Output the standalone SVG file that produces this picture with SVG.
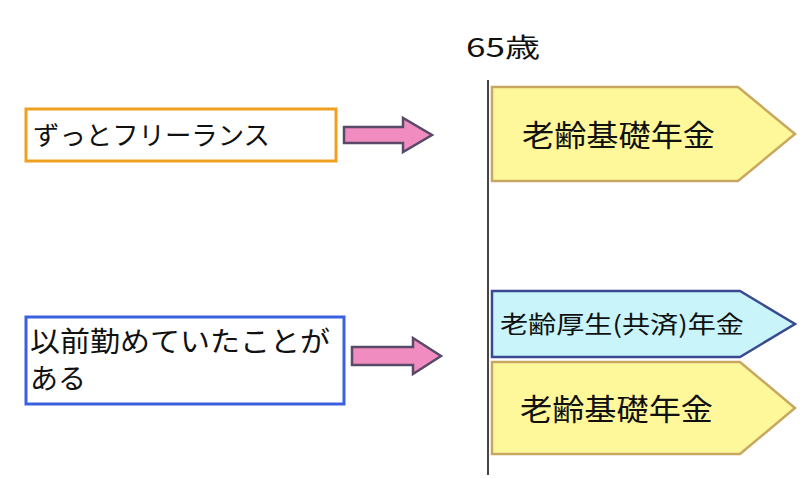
<svg xmlns="http://www.w3.org/2000/svg" width="800" height="478" viewBox="0 0 800 478">
<style>
text{font-family:"Noto Sans CJK JP","Liberation Sans",sans-serif;fill:#111}
.arr{fill:#f08cc0;stroke:#5a4a6a;stroke-width:2.5}
.yl{fill:#fff89a;stroke:#c8a860;stroke-width:2.5}
</style>
<rect width="800" height="478" fill="#fff"/>
<g id="connectors">
<polygon class="arr" points="344,127 403,127 403,118 432,135 403,152 403,143 344,143"/>
<polygon class="arr" points="352,347 413,347 413,338 441,356 413,374 413,365 352,365"/>
<line x1="488" y1="80" x2="488" y2="475" stroke="#444" stroke-width="2"/>
</g>
<g id="age"><text x="466" y="57" font-size="26" textLength="74" lengthAdjust="spacingAndGlyphs">65歳</text></g>
<g id="freelance"><rect x="26" y="109" width="310" height="52" fill="#fff" stroke="#f0a020" stroke-width="3"/>
<text x="33" y="145" font-size="26" textLength="237" lengthAdjust="spacingAndGlyphs">ずっとフリーランス</text></g>
<g id="employed"><rect x="26" y="317" width="318" height="87" fill="#fff" stroke="#3a60e0" stroke-width="3"/>
<text x="30" y="352" font-size="28" textLength="300" lengthAdjust="spacingAndGlyphs">以前勤めていたことが</text><text x="30" y="389" font-size="28">ある</text></g>
<g id="kiso1"><polygon class="yl" points="492,87 738,87 795,134 738,181 492,181"/>
<text x="522" y="146" font-size="30" textLength="193" lengthAdjust="spacingAndGlyphs">老齢基礎年金</text></g>
<g id="kosei"><polygon points="492,291 740,291 795,324 740,357 492,357" fill="#c8f4fa" stroke="#3a4a90" stroke-width="2.5"/>
<text x="500" y="333" font-size="24" textLength="244" lengthAdjust="spacingAndGlyphs">老齢厚生(共済)年金</text></g>
<g id="kiso2"><polygon class="yl" points="492,362 740,362 795,408 740,454 492,454"/>
<text x="520" y="420" font-size="30" textLength="193" lengthAdjust="spacingAndGlyphs">老齢基礎年金</text></g>
</svg>
